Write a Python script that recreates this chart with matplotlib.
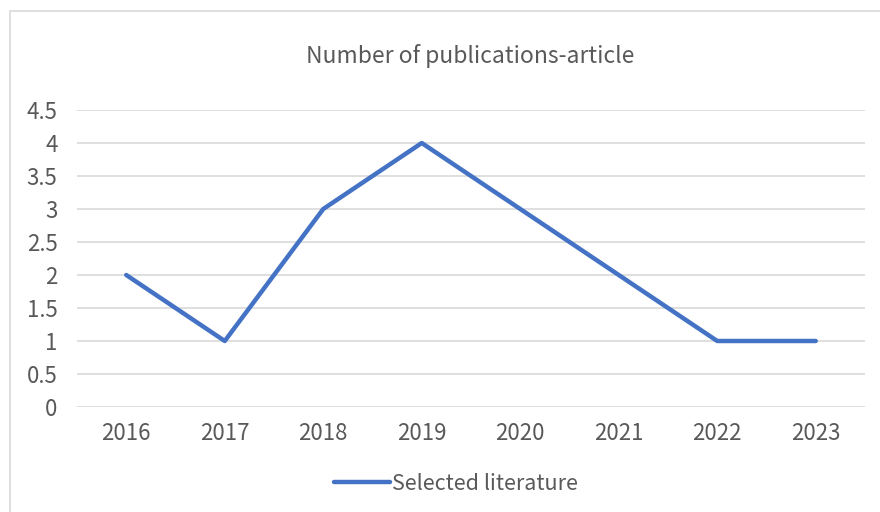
import matplotlib
matplotlib.use("Agg")
import matplotlib.pyplot as plt
from matplotlib.patches import Rectangle

years = ["2016", "2017", "2018", "2019", "2020", "2021", "2022", "2023"]
values = [2, 1, 3, 4, 3, 2, 1, 1]
series_name = "Selected literature"
title = "Number of publications-article"
yticks = [0, 0.5, 1, 1.5, 2, 2.5, 3, 3.5, 4, 4.5]

plt.rcParams['font.family'] = ['Noto Sans CJK SC', 'DejaVu Sans']
W, H = 880, 512
fig = plt.figure(figsize=(W/100, H/100), dpi=100)
fig.patch.set_facecolor('white')

# chart border
fig.patches.append(Rectangle((10/W, -0.01), 1.0, (H-11)/H + 0.01, transform=fig.transFigure,
                             fill=False, edgecolor='#d9d9d9', linewidth=1.2))

ax = fig.add_axes([77/W, 1-407/H, (865-77)/W, (407-110)/H])
x = list(range(len(years)))
ax.plot(x, values, color='#4472C4', linewidth=3.2, solid_joinstyle='round',
        solid_capstyle='round', label=series_name)
ax.set_xlim(-0.5, len(years)-0.5)
ax.set_ylim(0, 4.5)
ax.set_yticks(yticks)
ax.set_yticklabels([f"{v:g}" for v in yticks])
ax.set_xticks(x)
ax.set_xticklabels(years)
ax.grid(axis='y', color='#d9d9d9', linewidth=1.2)
ax.set_axisbelow(True)
for s in ax.spines.values():
    s.set_visible(False)
ax.tick_params(axis='both', length=0, labelsize=16, colors='#595959')
ax.tick_params(axis='y', pad=14)
ax.tick_params(axis='x', pad=10.5)

fig.text(470/W, 1-56/H, title, ha='center', va='center', fontsize=16.5, color='#595959')

leg = fig.legend(loc='center', bbox_to_anchor=(456/W, 1-484/H), frameon=False,
                 fontsize=15.5, handlelength=2.6, handletextpad=0.1, labelcolor='#595959')

fig.savefig("out.png", dpi=100, facecolor='white')
